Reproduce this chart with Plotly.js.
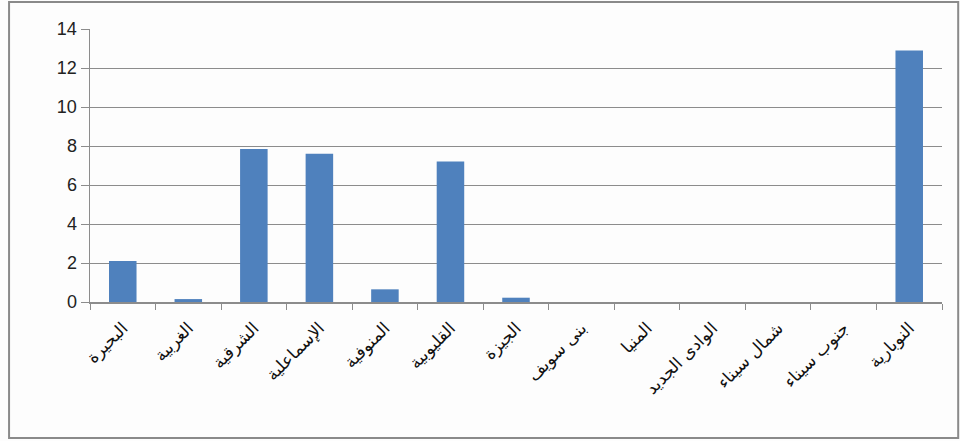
<!DOCTYPE html>
<html>
<head>
<meta charset="utf-8">
<script src="https://cdn.plot.ly/plotly-3.0.1.min.js"></script>
<style>html,body{margin:0;padding:0;background:#fff;}#chart{width:960px;height:441px;}</style>
</head>
<body>
<div id="chart"></div>
<script>
const categories = ["البحيرة","الغربية","الشرقية","الإسماعلية","المنوفية","القليوبية","الجيزة","بنى سويف","المنيا","الوادى الجديد","شمال سيناء","جنوب سيناء","النوبارية"];
const values = [2.1, 0.15, 7.85, 7.6, 0.65, 7.2, 0.22, 0, 0, 0, 0, 0, 12.9];
const yTicks = [0, 2, 4, 6, 8, 10, 12, 14];

const trace = {
  type: 'bar',
  x: categories,
  y: values,
  marker: {color: '#4F81BD', line: {width: 0}},
  hoverinfo: 'x+y'
};

const layout = {
  width: 960, height: 441,
  margin: {l: 90, r: 18, t: 29, b: 139},
  paper_bgcolor: '#fdfdfd',
  plot_bgcolor: '#fdfdfd',
  bargap: 0.58,
  showlegend: false,
  font: {family: 'Liberation Sans, Arial, DejaVu Sans, sans-serif', color: '#222'},
  xaxis: {
    type: 'category',
    tickangle: -45,
    tickfont: {size: 17, color: '#111', family: 'DejaVu Sans, Liberation Sans, sans-serif'},
    ticks: 'outside', tickson: 'boundaries', ticklen: 6, tickcolor: '#8c8c8c',
    ticklabelstandoff: 8,
    showline: true, linecolor: '#8c8c8c', linewidth: 1.5,
    showgrid: false
  },
  yaxis: {
    range: [0, 14],
    tickvals: yTicks,
    ticks: 'outside', ticklen: 8, tickcolor: '#8c8c8c',
    tickfont: {size: 18, color: '#222'},
    showline: true, linecolor: '#8c8c8c', linewidth: 1.5,
    showgrid: true, gridcolor: '#8c8c8c', gridwidth: 1,
    zeroline: false
  },
  shapes: [{
    type: 'rect', xref: 'paper', yref: 'paper',
    x0: -0.095, x1: 1.019, y0: -0.498, y1: 1.099,
    line: {color: '#8a8a8a', width: 2}, fillcolor: 'rgba(0,0,0,0)', layer: 'below'
  }]
};

Plotly.newPlot('chart', [trace], layout, {displayModeBar: false, staticPlot: true});
</script>
</body>
</html>
